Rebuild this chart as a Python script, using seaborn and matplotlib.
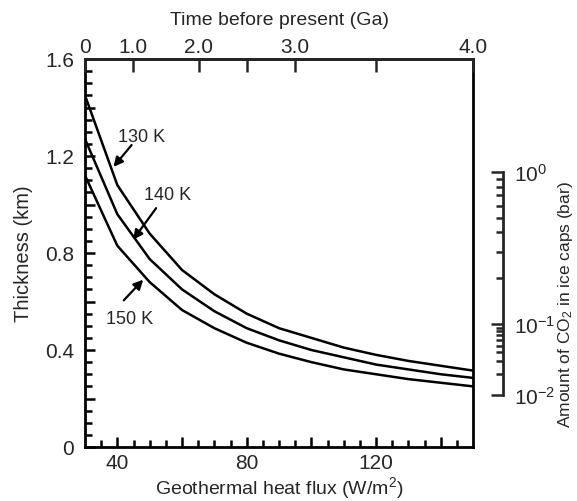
import numpy as np
import pandas as pd
import matplotlib
matplotlib.use('Agg')
import matplotlib.pyplot as plt
from matplotlib.ticker import FixedLocator, FixedFormatter, NullFormatter
import seaborn as sns

# Curve data (thickness in km vs heat flux)
flux = [30, 40, 50, 60, 70, 80, 90, 100, 110, 120, 130, 140, 150]
thick_130 = [1.45, 1.08, 0.88, 0.73, 0.63, 0.55, 0.49, 0.45, 0.41, 0.38, 0.355, 0.335, 0.315]
thick_140 = [1.27, 0.96, 0.775, 0.65, 0.56, 0.49, 0.44, 0.40, 0.37, 0.34, 0.32, 0.30, 0.285]
thick_150 = [1.12, 0.83, 0.68, 0.565, 0.49, 0.43, 0.385, 0.35, 0.32, 0.30, 0.28, 0.265, 0.25]
temps = ['130 K', '140 K', '150 K']

# Top axis: time before present placed at heat-flux positions
time_flux_pos = [30, 44.8, 65.2, 80, 95, 120, 150]
time_labels = ['0', '1.0', '2.0', '', '3.0', '', '4.0']

# Right axis: CO2 amount decades placed at thickness positions
co2_labels = ['$10^{-2}$', '$10^{-1}$', '$10^{0}$']
co2_thick_pos = [0.214, 0.506, 1.135]

# Labels: text position (flux, thickness) and arrow tip
label_text_pos = [(47.5, 1.28), (55.5, 1.04), (43.8, 0.53)]
label_tip_pos = [(38.8, 1.155), (44.9, 0.855), (48.0, 0.69)]
label_tail_pos = [(44.4, 1.245), (52.0, 0.985), (42.0, 0.605)]

df = pd.DataFrame({
    'flux': flux * 3,
    'thickness': thick_130 + thick_140 + thick_150,
    'temp': [t for t in temps for _ in flux],
})

sns.set_style('ticks')
plt.rcParams['font.family'] = ['Liberation Sans', 'DejaVu Sans']
plt.rcParams['mathtext.default'] = 'regular'

fig = plt.figure(figsize=(5.77, 5.02), dpi=100)
ax = fig.add_axes([85 / 577, 54 / 502, 388 / 577, 388 / 502])

sns.lineplot(data=df, x='flux', y='thickness', hue='temp',
             palette={t: 'black' for t in temps}, linewidth=1.8,
             legend=False, ax=ax)

ax.set_xlim(30, 150)
ax.set_ylim(0, 1.6)
for s in ax.spines.values():
    s.set_linewidth(2)
    s.set_color('black')

# bottom axis ticks
ax.xaxis.set_major_locator(FixedLocator([40, 60, 80, 100, 120, 140]))
ax.xaxis.set_major_formatter(FixedFormatter(['40', '', '80', '', '120', '']))
ax.xaxis.set_minor_locator(FixedLocator(np.arange(35, 150, 5)))
# left axis ticks
ax.yaxis.set_major_locator(FixedLocator(np.arange(0, 1.61, 0.2)))
ax.yaxis.set_major_formatter(FixedFormatter(['0', '', '0.4', '', '0.8', '', '1.2', '', '1.6']))
ax.yaxis.set_minor_locator(FixedLocator(np.arange(0.05, 1.6, 0.05)))
ax.tick_params(which='both', direction='in', right=True, top=False,
               width=1.8, color='black', labelsize=15)
ax.tick_params(axis='x', pad=4)
ax.tick_params(axis='y', pad=8)
ax.tick_params(which='major', length=7)
ax.tick_params(which='minor', length=5)

ax.set_xlabel('Geothermal heat flux (W/m$^2$)', fontsize=14)
ax.set_ylabel('Thickness (km)', fontsize=14.5)
ax.xaxis.set_label_coords(0.5, -0.07)
ax.yaxis.set_label_coords(-0.135, 0.5)

# top time axis
ax_top = ax.twiny()
ax_top.set_xlim(30, 150)
ax_top.xaxis.set_major_locator(FixedLocator(time_flux_pos))
ax_top.xaxis.set_major_formatter(FixedFormatter(time_labels))
ax_top.tick_params(direction='in', length=9, width=1.8, labelsize=15, pad=2)
for side in ['left', 'right', 'bottom']:
    ax_top.spines[side].set_visible(False)
ax_top.spines['top'].set_linewidth(2)
ax_top.set_xlabel('Time before present (Ga)', fontsize=14)
ax_top.xaxis.set_label_coords(0.5, 1.09)

# right CO2 axis
ax_co2 = ax.twinx()
ax_co2.set_ylim(0, 1.6)
for side in ['left', 'top', 'bottom']:
    ax_co2.spines[side].set_visible(False)
ax_co2.spines['right'].set_position(('axes', (503 - 85) / 388))
ax_co2.spines['right'].set_bounds(co2_thick_pos[0], co2_thick_pos[-1])
ax_co2.spines['right'].set_linewidth(2)
ax_co2.yaxis.set_major_locator(FixedLocator(co2_thick_pos))
ax_co2.yaxis.set_major_formatter(FixedFormatter(co2_labels))
minor_pos = []
for lo, hi in zip(co2_thick_pos[:-1], co2_thick_pos[1:]):
    minor_pos += [lo + (hi - lo) * np.log10(m) for m in range(2, 10)]
ax_co2.yaxis.set_minor_locator(FixedLocator(minor_pos))
ax_co2.yaxis.set_minor_formatter(NullFormatter())
ax_co2.tick_params(which='both', direction='in', width=1.8, labelsize=15, pad=8)
ax_co2.tick_params(which='major', length=9)
ax_co2.tick_params(which='minor', length=5)
ax_co2.set_ylabel('Amount of CO$_2$ in ice caps (bar)', fontsize=12.5)
ax_co2.yaxis.set_label_coords(1.213, 0.37)

# curve labels with arrows
for name, txt, tail, tip in zip(temps, label_text_pos, label_tail_pos, label_tip_pos):
    ax.text(txt[0], txt[1], name, fontsize=13, ha='center', va='center')
    ax.annotate('', xy=tip, xytext=tail,
                arrowprops=dict(arrowstyle='-|>', color='black', lw=1.6,
                                mutation_scale=14, shrinkA=0, shrinkB=0))

fig.savefig('out.png', dpi=100)
